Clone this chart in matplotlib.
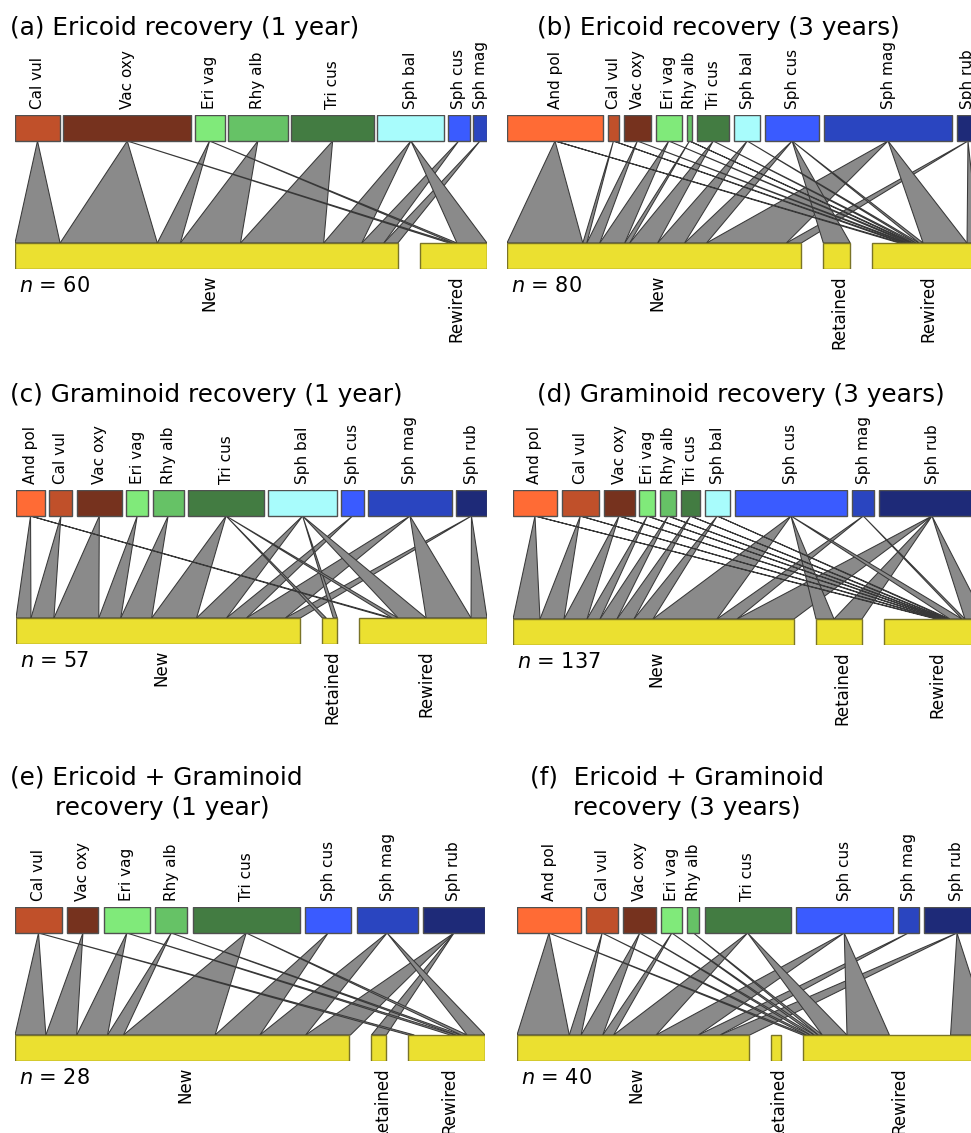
import matplotlib
matplotlib.use('Agg')
import matplotlib.pyplot as plt
from matplotlib.patches import Rectangle, Polygon

# species colours
COLORS = {
    'And pol': '#ff6b35', 'Cal vul': '#c0502a', 'Vac oxy': '#76321e',
    'Eri vag': '#80ea7a', 'Rhy alb': '#66c266', 'Tri cus': '#437c42',
    'Sph bal': '#a8fcfc', 'Sph cus': '#3a5bff', 'Sph mag': '#2a45c0',
    'Sph rub': '#1e2a78',
}
YELLOW = '#ebe030'
LINK = '#8a8a8a'

# ---- (a) Ericoid recovery (1 year)
a_species = ['Cal vul', 'Vac oxy', 'Eri vag', 'Rhy alb', 'Tri cus', 'Sph bal', 'Sph cus', 'Sph mag']
a_abund = [45, 128, 30, 60, 83, 67, 22, 14]
a_groups = ['New', 'Rewired']
a_totals = [382, 67]
a_new = [45, 97, 23, 60, 83, 38, 22, 14]
a_rewired = [0, 4, 4, 0, 0, 30, 0, 0]
a_n = 60

# ---- (b) Ericoid recovery (3 years)
b_species = ['And pol', 'Cal vul', 'Vac oxy', 'Eri vag', 'Rhy alb', 'Tri cus', 'Sph bal', 'Sph cus', 'Sph mag', 'Sph rub']
b_abund = [96, 11, 27, 26, 5.7, 32, 26, 54, 128, 22]
b_groups = ['New', 'Retained', 'Rewired']
b_totals = [295, 27, 107]
b_new = [76, 4, 13, 25, 5, 28, 27, 22, 80, 15]
b_retained = [0, 0, 0, 0, 0, 0, 0, 27, 0, 0]
b_rewired = [3, 3, 3, 3, 2, 3, 3, 4, 44, 12]
b_n = 80

# ---- (c) Graminoid recovery (1 year)
c_species = ['And pol', 'Cal vul', 'Vac oxy', 'Eri vag', 'Rhy alb', 'Tri cus', 'Sph bal', 'Sph cus', 'Sph mag', 'Sph rub']
c_abund = [29, 23, 45, 22, 31, 76, 68, 23, 83, 31]
c_groups = ['New', 'Retained', 'Rewired']
c_totals = [285, 15, 128]
c_new = [15, 23, 45, 22, 31, 45, 30, 20, 39, 15]
c_retained = [0, 0, 0, 0, 0, 4, 4, 0, 0, 0]
c_rewired = [3, 0, 0, 0, 0, 6, 28, 0, 45, 16]
c_n = 57

# ---- (d) Graminoid recovery (3 years)
d_species = ['And pol', 'Cal vul', 'Vac oxy', 'Eri vag', 'Rhy alb', 'Tri cus', 'Sph bal', 'Sph cus', 'Sph mag', 'Sph rub']
d_abund = [44, 37, 31, 16, 16, 19, 25, 113, 22, 106]
d_groups = ['New', 'Retained', 'Rewired']
d_totals = [281, 46, 101]
d_new = [27, 24, 23, 13, 17, 17, 19, 64, 20, 57]
d_retained = [0, 0, 0, 0, 0, 0, 0, 18, 0, 28]
d_rewired = [2, 2, 2, 2, 2, 2, 2, 12, 3, 20]
d_n = 137

# ---- (e) Ericoid + Graminoid recovery (1 year)
e_species = ['Cal vul', 'Vac oxy', 'Eri vag', 'Rhy alb', 'Tri cus', 'Sph cus', 'Sph mag', 'Sph rub']
e_abund = [47, 31, 46, 32, 107, 46, 61, 62]
e_groups = ['New', 'Retained', 'Rewired']
e_totals = [336, 15, 77]
e_new = [31, 31, 31, 16, 92, 45, 46, 45]
e_retained = [0, 0, 0, 0, 0, 0, 0, 15]
e_rewired = [6, 0, 6, 5, 6, 0, 18, 0]
e_n = 28

# ---- (f) Ericoid + Graminoid recovery (3 years)
f_species = ['And pol', 'Cal vul', 'Vac oxy', 'Eri vag', 'Rhy alb', 'Tri cus', 'Sph cus', 'Sph mag', 'Sph rub']
f_abund = [64, 32, 33, 21, 12, 86, 97, 21, 66]
f_groups = ['New', 'Retained', 'Rewired']
f_totals = [235, 10, 190]
f_new = [53, 12, 22, 11, 0, 43, 43, 22, 30]
f_retained = [0, 0, 0, 0, 0, 0, 0, 0, 0]
f_rewired = [4, 4, 4, 4, 4, 25, 43, 0, 40]
f_n = 40

FIG_W, FIG_H = 971, 1133
BOX_H = 26


def draw_web(rect, species, abund, groups, totals, links, n, gap_top, slack):
    # slack[k]: index of the species before whose link the free room of box k goes
    x0, x1, y0, y1 = rect
    W, H = x1 - x0, y1 - y0
    ax = fig.add_axes([x0 / FIG_W, 1 - y1 / FIG_H, W / FIG_W, H / FIG_H])
    ax.set_xlim(0, W)
    ax.set_ylim(0, H)
    ax.axis('off')

    # top boxes
    st = (W - gap_top * (len(species) - 1)) / sum(abund)
    centers = []
    x = 0
    for sp, a in zip(species, abund):
        w = a * st
        centers.append(x + w / 2)
        ax.add_patch(Rectangle((x, H - BOX_H), w, BOX_H, fc=COLORS[sp], ec='#505050', lw=1, zorder=3))
        ax.annotate(sp, (x + w / 2, H), xytext=(0, 6), textcoords='offset pixels',
                    rotation=90, ha='center', va='bottom', fontsize=11, annotation_clip=False)
        x += w + gap_top

    # bottom boxes + links
    gap_bot = 22
    sb = (W - gap_bot * (len(groups) - 1)) / sum(totals)
    x = 0
    for g, t, k in zip(groups, totals, slack):
        w = t * sb
        ax.add_patch(Rectangle((x, 0), w, BOX_H, fc=YELLOW, ec='#7a7428', lw=1, zorder=3))
        ax.annotate(g, (x + w / 2, 0), xytext=(3, -6), textcoords='offset pixels',
                    rotation=90, ha='center', va='top', fontsize=12, annotation_clip=False)
        vals = links[g]
        free = w - sum(vals) * sb
        bx = x
        for i, (cx, v) in enumerate(zip(centers, vals)):
            if i == k:
                bx += free
            if v <= 0:
                continue
            bw = v * sb
            ax.add_patch(Polygon([(cx, H - BOX_H), (bx, BOX_H), (bx + bw, BOX_H)],
                                 closed=True, fc=LINK, ec='#383838', lw=0.75, zorder=2))
            bx += bw
        x += w + gap_bot

    ax.annotate(r'$n$ = %d' % n, (0, 0), xytext=(4, -7), textcoords='offset pixels',
                ha='left', va='top', fontsize=15, annotation_clip=False)
    return ax


fig = plt.figure(figsize=(FIG_W / 100, FIG_H / 100), dpi=100)

draw_web((15, 487, 115, 269), a_species, a_abund, a_groups, a_totals,
         {'New': a_new, 'Rewired': a_rewired}, a_n, 3.3, [8, 0])
draw_web((507, 979, 115, 269), b_species, b_abund, b_groups, b_totals,
         {'New': b_new, 'Retained': b_retained, 'Rewired': b_rewired}, b_n, 4.9, [10, 10, 0])
draw_web((16, 487, 490, 644), c_species, c_abund, c_groups, c_totals,
         {'New': c_new, 'Retained': c_retained, 'Rewired': c_rewired}, c_n, 4.3, [10, 6, 0])
draw_web((513, 985, 490, 645), d_species, d_abund, d_groups, d_totals,
         {'New': d_new, 'Retained': d_retained, 'Rewired': d_rewired}, d_n, 4.8, [10, 10, 0])
draw_web((15, 485, 907, 1061), e_species, e_abund, e_groups, e_totals,
         {'New': e_new, 'Retained': e_retained, 'Rewired': e_rewired}, e_n, 5.4, [8, 8, 1])
draw_web((517, 990, 907, 1061), f_species, f_abund, f_groups, f_totals,
         {'New': f_new, 'Retained': f_retained, 'Rewired': f_rewired}, f_n, 5.1, [9, 9, 8])


def title(x, y, s):
    fig.text(x / FIG_W, 1 - y / FIG_H, s, fontsize=17.8, ha='left', va='center')


title(10, 28, '(a) Ericoid recovery (1 year)')
title(537, 28, '(b) Ericoid recovery (3 years)')
title(10, 395, '(c) Graminoid recovery (1 year)')
title(537, 395, '(d) Graminoid recovery (3 years)')
title(10, 778, '(e) Ericoid + Graminoid')
title(55, 808, 'recovery (1 year)')
title(530, 778, '(f)  Ericoid + Graminoid')
title(573, 808, 'recovery (3 years)')

fig.savefig('out.png', dpi=100)
